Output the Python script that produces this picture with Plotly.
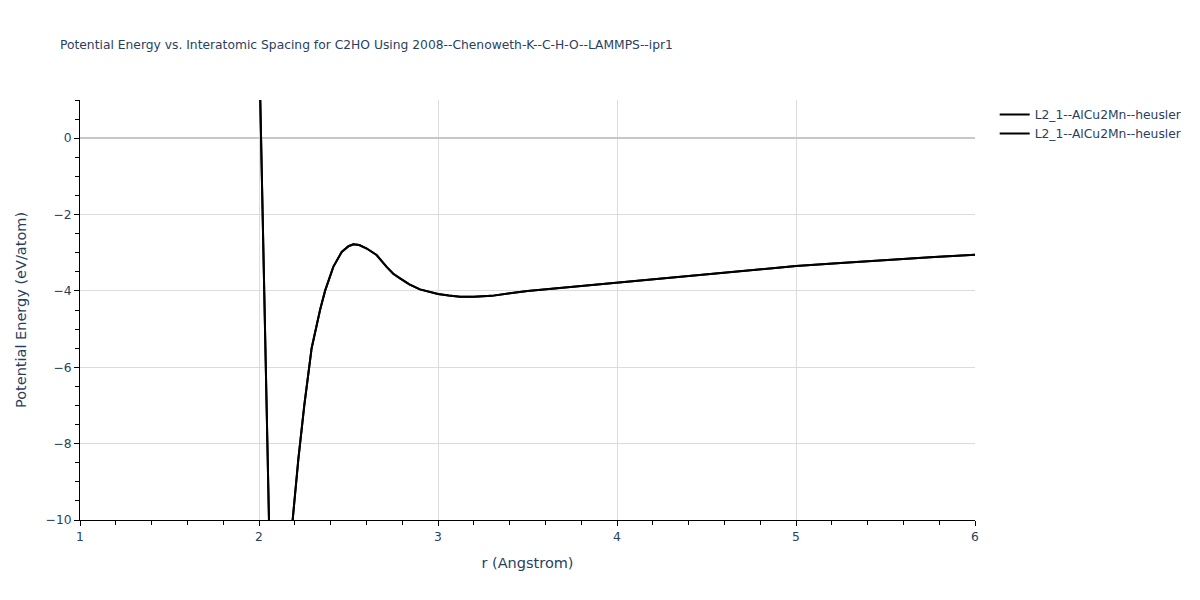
import plotly.graph_objects as go

r_values = [2.00, 2.007, 2.018, 2.028, 2.039, 2.048, 2.054, 2.07, 2.10, 2.15,
            2.188, 2.22, 2.253, 2.294, 2.341, 2.369, 2.415, 2.462, 2.50, 2.527,
            2.56, 2.602, 2.657, 2.713, 2.75, 2.788, 2.84, 2.899, 3.0, 3.06,
            3.123, 3.2, 3.3, 3.5, 3.75, 4.0, 4.25, 4.5, 4.75, 5.0,
            5.25, 5.5, 5.75, 6.0]
energy_values = [2.6, 1.0, -2.0, -4.0, -6.0, -8.0, -10.0, -14.0, -20.0, -13.0,
                 -10.0, -8.4, -7.0, -5.5, -4.5, -4.0, -3.37, -2.98, -2.83, -2.78,
                 -2.80, -2.89, -3.06, -3.37, -3.55, -3.67, -3.83, -3.96, -4.08, -4.12,
                 -4.15, -4.15, -4.13, -4.0, -3.89, -3.78, -3.67, -3.56, -3.45, -3.35,
                 -3.27, -3.19, -3.12, -3.05]

trace_names = ["L2_1--AlCu2Mn--heusler", "L2_1--AlCu2Mn--heusler"]
title_text = "Potential Energy vs. Interatomic Spacing for C2HO Using 2008--Chenoweth-K--C-H-O--LAMMPS--ipr1"

fig = go.Figure()
for name in trace_names:
    fig.add_trace(go.Scatter(x=r_values, y=energy_values, mode="lines", name=name,
                             line=dict(color="black", width=2)))

fig.update_layout(
    width=1184, height=584, autosize=False,
    title=dict(text=title_text, x=0.0439, xanchor="left", xref="container",
               y=0.9366, yanchor="middle", yref="container",
               font=dict(size=12.3, color="#2a3f5f")),
    paper_bgcolor="white", plot_bgcolor="white",
    margin=dict(l=72, r=217, t=92, b=72, autoexpand=False),
    font=dict(family="DejaVu Sans", color="#2a3f5f", size=12.3),
    legend=dict(x=1.022, y=1, xanchor="left", yanchor="top", font=dict(size=12.3)),
    xaxis=dict(title=dict(text="r (Angstrom)", font=dict(size=14.5)), range=[1, 6],
               dtick=1, showgrid=True, gridcolor="#dcdcdc", zeroline=False,
               showline=True, linecolor="black", linewidth=1,
               ticks="outside", ticklen=5, tickcolor="black",
               minor=dict(dtick=0.2, ticks="outside", ticklen=4, tickcolor="black", showgrid=False)),
    yaxis=dict(title=dict(text="Potential Energy (eV/atom)", font=dict(size=14.5)), range=[-10, 1],
               dtick=2, showgrid=True, gridcolor="#dcdcdc",
               zeroline=True, zerolinecolor="#c8c8c8", zerolinewidth=2,
               showline=True, linecolor="black", linewidth=1,
               ticks="outside", ticklen=5, tickcolor="black",
               minor=dict(dtick=0.5, ticks="outside", ticklen=4, tickcolor="black", showgrid=False)),
)

fig.write_html("out.html")
